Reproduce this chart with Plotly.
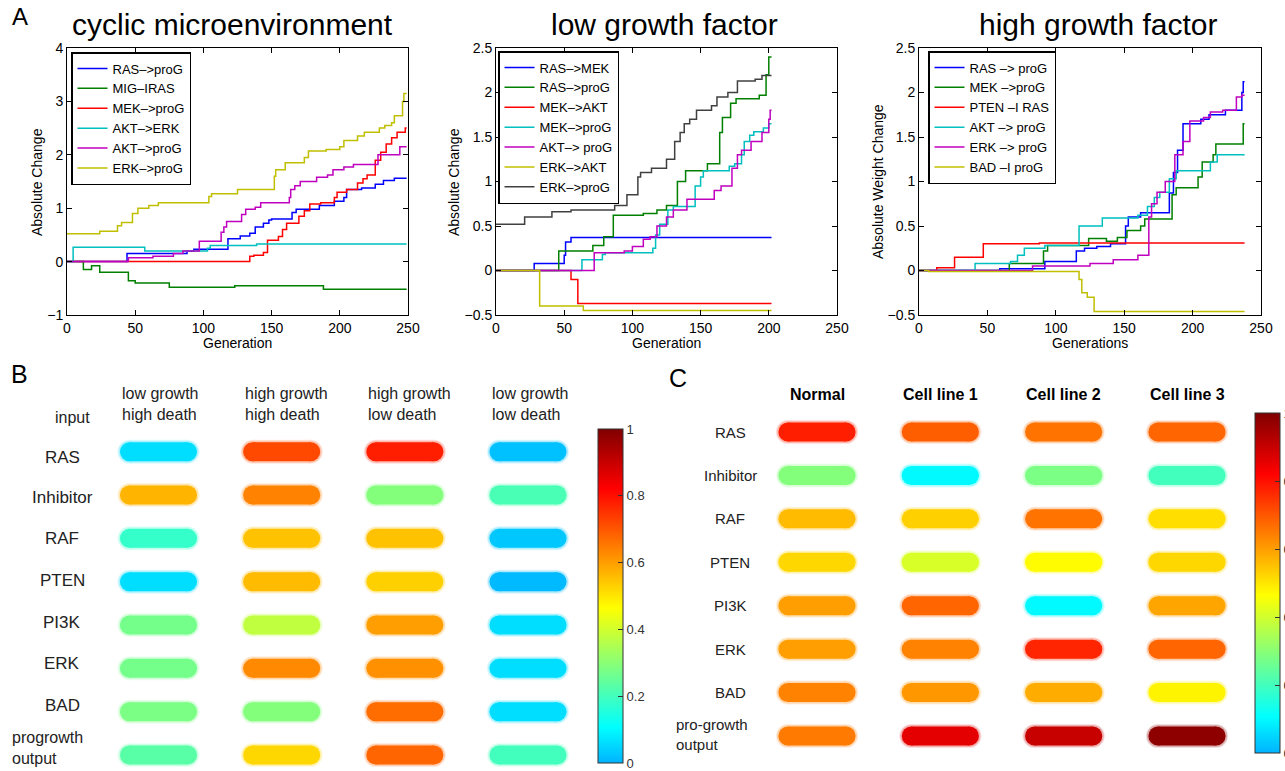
import plotly.graph_objects as go
from plotly.colors import sample_colorscale

W, H = 1285, 771
FONT = "Liberation Sans, Arial, Helvetica, sans-serif"

# ---------------- DATA: panel A (step series: generation, value) ----------------
cyc_names = ["RAS–>proG", "MIG–IRAS", "MEK–>proG", "AKT–>ERK", "AKT–>proG", "ERK–>proG"]
cyc_ras_prog_g = [0, 44, 88, 93, 118, 127, 134, 138, 144, 148, 150, 165, 168, 185, 196, 203, 205, 216, 226, 232, 240, 249]
cyc_ras_prog_v = [0, 0.15, 0.2, 0.23, 0.43, 0.48, 0.53, 0.65, 0.72, 0.78, 0.8, 0.92, 0.98, 1.05, 1.13, 1.2, 1.35, 1.38, 1.45, 1.52, 1.56, 1.56]
cyc_mig_ras_g = [0, 12, 18, 24, 45, 50, 75, 123, 188, 249]
cyc_mig_ras_v = [0, -0.15, -0.08, -0.2, -0.36, -0.4, -0.48, -0.45, -0.52, -0.52]
cyc_mek_prog_g = [0, 134, 137, 144, 147, 155, 158, 161, 170, 174, 178, 186, 196, 198, 205, 213, 217, 220, 226, 230, 234, 238, 242, 248, 249]
cyc_mek_prog_v = [0, 0.1, 0.12, 0.17, 0.4, 0.47, 0.6, 0.72, 0.85, 0.95, 1.08, 1.1, 1.2, 1.3, 1.35, 1.47, 1.55, 1.62, 1.9, 2.05, 2.2, 2.32, 2.42, 2.5, 2.5]
cyc_akt_erk_g = [0, 4.5, 57, 103, 105, 139, 249]
cyc_akt_erk_v = [0, 0.27, 0.2, 0.25, 0.3, 0.33, 0.33]
cyc_akt_prog_g = [0, 45, 63, 78, 85, 97, 113, 115, 117, 128, 131, 138, 142, 163, 164, 167, 171, 183, 191, 195, 203, 210, 228, 244, 249]
cyc_akt_prog_v = [0, 0.07, 0.1, 0.15, 0.2, 0.38, 0.55, 0.65, 0.75, 0.88, 0.98, 1.02, 1.1, 1.2, 1.35, 1.42, 1.5, 1.58, 1.62, 1.72, 1.77, 1.82, 2.0, 2.15, 2.15]
cyc_erk_prog_g = [0, 24, 37, 40, 48, 52, 60, 67, 104, 106, 125, 152, 153, 160, 174, 177, 190, 200, 203, 213, 218, 229, 233, 238, 240, 246, 247, 249]
cyc_erk_prog_v = [0.52, 0.57, 0.67, 0.73, 0.9, 1.0, 1.05, 1.1, 1.22, 1.27, 1.35, 1.6, 1.72, 1.85, 1.95, 2.07, 2.1, 2.15, 2.27, 2.35, 2.42, 2.5, 2.55, 2.6, 2.73, 3.0, 3.15, 3.15]

low_names = ["RAS–>MEK", "RAS–>proG", "MEK–>AKT", "MEK–>proG", "AKT–> proG", "ERK–>AKT", "ERK–>proG"]
low_ras_mek_g = [0, 28, 50, 51, 55, 202]
low_ras_mek_v = [0, 0.08, 0.17, 0.32, 0.37, 0.37]
low_ras_prog_g = [0, 46, 71, 79, 86, 108, 118, 125, 133, 139, 155, 164, 166, 172, 176, 193, 198, 200, 202]
low_ras_prog_v = [0, 0.22, 0.28, 0.38, 0.62, 0.64, 0.68, 0.73, 1.0, 1.12, 1.2, 1.55, 1.72, 1.88, 1.93, 1.97, 2.2, 2.4, 2.4]
low_mek_akt_g = [0, 55, 60, 202]
low_mek_akt_v = [0, -0.1, -0.37, -0.37]
low_mek_prog_g = [0, 63, 78, 80, 115, 117, 120, 126, 130, 146, 150, 152, 171, 175, 180, 182, 186, 189, 196, 200, 202]
low_mek_prog_v = [0, 0.12, 0.18, 0.2, 0.25, 0.4, 0.52, 0.68, 0.72, 0.95, 1.05, 1.12, 1.17, 1.2, 1.3, 1.45, 1.52, 1.56, 1.6, 1.65, 1.65]
low_akt_prog_g = [0, 72, 94, 100, 108, 113, 118, 125, 130, 140, 160, 165, 173, 177, 180, 187, 195, 200, 201, 202]
low_akt_prog_v = [0, 0.2, 0.22, 0.27, 0.35, 0.38, 0.5, 0.6, 0.68, 0.8, 0.9, 0.95, 1.15, 1.3, 1.35, 1.45, 1.55, 1.7, 1.8, 1.8]
low_erk_akt_g = [0, 32, 64, 202]
low_erk_akt_v = [0, -0.4, -0.45, -0.45]
low_erk_prog_g = [0, 21, 41, 55, 87, 96, 104, 106, 114, 125, 131, 135, 138, 142, 147, 158, 162, 170, 177, 190, 195, 202]
low_erk_prog_v = [0.52, 0.6, 0.66, 0.68, 0.73, 0.85, 1.05, 1.1, 1.15, 1.25, 1.45, 1.55, 1.65, 1.7, 1.8, 1.85, 1.95, 2.0, 2.13, 2.15, 2.19, 2.19]

high_names = ["RAS –> proG", "MEK –>proG", "PTEN –I RAS", "AKT –> proG", "ERK –> proG", "BAD –I proG"]
high_ras_prog_g = [0, 59, 92, 115, 121, 130, 140, 151, 153, 162, 183, 186, 189, 193, 206, 212, 224, 236, 237, 238]
high_ras_prog_v = [0, 0.02, 0.1, 0.22, 0.25, 0.27, 0.3, 0.5, 0.6, 0.65, 0.87, 1.1, 1.35, 1.65, 1.7, 1.75, 1.8, 2.0, 2.12, 2.12]
high_mek_prog_g = [0, 66, 91, 94, 124, 137, 145, 152, 162, 165, 185, 188, 204, 207, 215, 217, 237, 238]
high_mek_prog_v = [0, 0.08, 0.22, 0.28, 0.36, 0.33, 0.37, 0.45, 0.5, 0.58, 0.85, 0.93, 1.05, 1.22, 1.3, 1.42, 1.65, 1.65]
high_pten_ras_g = [0, 13, 26, 47, 88, 238]
high_pten_ras_v = [0, 0.03, 0.15, 0.3, 0.31, 0.31]
high_akt_prog_g = [0, 41, 67, 72, 77, 92, 117, 134, 160, 167, 172, 176, 183, 188, 213, 218, 238]
high_akt_prog_v = [0, 0.08, 0.1, 0.17, 0.25, 0.28, 0.5, 0.59, 0.62, 0.72, 0.82, 0.88, 1.03, 1.12, 1.22, 1.3, 1.3]
high_erk_prog_g = [0, 83, 125, 142, 160, 168, 170, 174, 180, 187, 193, 198, 208, 213, 222, 232, 236, 238]
high_erk_prog_v = [0, 0.05, 0.08, 0.12, 0.17, 0.6, 0.75, 0.88, 1.0, 1.3, 1.45, 1.68, 1.72, 1.78, 1.8, 1.95, 1.97, 1.97]
high_bad_prog_g = [0, 7, 117, 119, 123, 128, 238]
high_bad_prog_v = [0, -0.01, -0.1, -0.25, -0.3, -0.46, -0.46]

# ---------------- DATA: panels B and C (activity 0..1) ----------------
b_rows = ["RAS", "Inhibitor", "RAF", "PTEN", "PI3K", "ERK", "BAD", "progrowth<br>output"]
b_cols = ["low growth<br>high death", "high growth<br>high death", "high growth<br>low death", "low growth<br>low death"]
b_values = [
    [0.06, 0.72, 0.78, 0.02],
    [0.57, 0.64, 0.29, 0.21],
    [0.18, 0.55, 0.55, 0.03],
    [0.06, 0.56, 0.53, 0.01],
    [0.27, 0.375, 0.60, 0.06],
    [0.27, 0.63, 0.62, 0.06],
    [0.28, 0.29, 0.67, 0.06],
    [0.23, 0.52, 0.68, 0.20],
]
c_rows = ["RAS", "Inhibitor", "RAF", "PTEN", "PI3K", "ERK", "BAD", "pro-growth<br>output"]
c_cols = ["Normal", "Cell line 1", "Cell line 2", "Cell line 3"]
c_values = [
    [0.78, 0.69, 0.66, 0.68],
    [0.29, 0.10, 0.28, 0.20],
    [0.56, 0.53, 0.66, 0.51],
    [0.52, 0.41, 0.47, 0.52],
    [0.60, 0.68, 0.10, 0.59],
    [0.60, 0.64, 0.77, 0.68],
    [0.64, 0.61, 0.58, 0.48],
    [0.65, 0.86, 0.90, 0.98],
]
cbar_ticks = [0, 0.2, 0.4, 0.6, 0.8, 1]
cbar_ticktext = ["0", "0.2", "0.4", "0.6", "0.8", "1"]

# ---------------- helpers ----------------
def fx(px):
    return px / W

def fy(py):
    return 1 - py / H

# jet colormap restricted to [0.3, 1.0]
JET = [[0.0, "rgb(0,179,255)"], [0.1071, "rgb(0,255,255)"], [0.4643, "rgb(255,255,0)"],
       [0.8214, "rgb(255,0,0)"], [1.0, "rgb(128,0,0)"]]

M_BLUE, M_GREEN, M_RED = "rgb(0,0,255)", "rgb(0,128,0)", "rgb(255,0,0)"
M_CYAN, M_MAG, M_OLIVE, M_GRAY = "rgb(0,191,191)", "rgb(191,0,191)", "rgb(191,191,0)", "rgb(64,64,64)"

fig = go.Figure()

panels = [
    ("x", "y", "legend", [
        (cyc_names[0], M_BLUE, cyc_ras_prog_g, cyc_ras_prog_v),
        (cyc_names[1], M_GREEN, cyc_mig_ras_g, cyc_mig_ras_v),
        (cyc_names[2], M_RED, cyc_mek_prog_g, cyc_mek_prog_v),
        (cyc_names[3], M_CYAN, cyc_akt_erk_g, cyc_akt_erk_v),
        (cyc_names[4], M_MAG, cyc_akt_prog_g, cyc_akt_prog_v),
        (cyc_names[5], M_OLIVE, cyc_erk_prog_g, cyc_erk_prog_v),
    ]),
    ("x2", "y2", "legend2", [
        (low_names[0], M_BLUE, low_ras_mek_g, low_ras_mek_v),
        (low_names[1], M_GREEN, low_ras_prog_g, low_ras_prog_v),
        (low_names[2], M_RED, low_mek_akt_g, low_mek_akt_v),
        (low_names[3], M_CYAN, low_mek_prog_g, low_mek_prog_v),
        (low_names[4], M_MAG, low_akt_prog_g, low_akt_prog_v),
        (low_names[5], M_OLIVE, low_erk_akt_g, low_erk_akt_v),
        (low_names[6], M_GRAY, low_erk_prog_g, low_erk_prog_v),
    ]),
    ("x3", "y3", "legend3", [
        (high_names[0], M_BLUE, high_ras_prog_g, high_ras_prog_v),
        (high_names[1], M_GREEN, high_mek_prog_g, high_mek_prog_v),
        (high_names[2], M_RED, high_pten_ras_g, high_pten_ras_v),
        (high_names[3], M_CYAN, high_akt_prog_g, high_akt_prog_v),
        (high_names[4], M_MAG, high_erk_prog_g, high_erk_prog_v),
        (high_names[5], M_OLIVE, high_bad_prog_g, high_bad_prog_v),
    ]),
]
for xa, ya, lg, series in panels:
    for name, col, g, v in series:
        fig.add_trace(go.Scatter(x=g, y=v, name=name, mode="lines", line=dict(color=col, width=1.5, shape="hv"),
                                 xaxis=xa, yaxis=ya, legend=lg, hoverinfo="skip"))

# ---------------- pills (B: x4/y4, C: x5/y5) ----------------
PILL_HALF = 0.236  # data units between cap centres / 2

def add_pills(values, xa, ya, cbar):
    first = True
    for r, row in enumerate(values):
        for c, v in enumerate(row):
            col = sample_colorscale(JET, [v])[0]
            xs, ys = [c - PILL_HALF, c + PILL_HALF], [r, r]
            for wdt, op in [(24, 0.12), (22, 0.22)]:
                fig.add_trace(go.Scatter(x=xs, y=ys, mode="lines+markers", opacity=op,
                                         line=dict(color=col, width=wdt), marker=dict(size=wdt, color=col),
                                         xaxis=xa, yaxis=ya, showlegend=False, hoverinfo="skip"))
            fig.add_trace(go.Scatter(x=xs, y=ys, mode="lines+markers",
                                     line=dict(color=col, width=19),
                                     marker=dict(size=19, color=[v, v], colorscale=JET, cmin=0, cmax=1,
                                                 showscale=first, colorbar=cbar),
                                     xaxis=xa, yaxis=ya, showlegend=False, hoverinfo="skip"))
            first = False

def cbar_dict(x0, ybot, length):
    return dict(x=fx(x0), xanchor="left", y=fy(ybot), yanchor="bottom", len=length, lenmode="pixels",
                thickness=25, thicknessmode="pixels", xpad=0, ypad=0, outlinewidth=1, outlinecolor="#333",
                ticks="inside", ticklen=5, tickcolor="#333", tickvals=cbar_ticks, ticktext=cbar_ticktext,
                tickfont=dict(family=FONT, size=13, color="#333"))

add_pills(b_values, "x4", "y4", cbar_dict(598, 763, 334))
add_pills(c_values, "x5", "y5", cbar_dict(1255, 753, 340))

# ---------------- layout ----------------
def a_xaxis(x0, x1, anchor):
    return dict(domain=[fx(x0), fx(x1)], anchor=anchor, range=[0, 250], tickvals=[0, 50, 100, 150, 200, 250],
                showgrid=False, zeroline=False, showline=True, linecolor="black", linewidth=1, mirror="ticks",
                ticks="inside", ticklen=5, tickcolor="black", tickfont=dict(family=FONT, size=14, color="black"))

def a_yaxis(rng, dt, anchor):
    return dict(domain=[fy(315), fy(48)], anchor=anchor, range=rng, dtick=dt, tick0=0,
                showgrid=False, zeroline=False, showline=True, linecolor="black", linewidth=1, mirror="ticks",
                ticks="inside", ticklen=5, tickcolor="black", tickfont=dict(family=FONT, size=14, color="black"))

def hidden_x(c0, c3):
    s = (c3 - c0) / 3
    return dict(domain=[fx(c0 - s / 2), fx(c3 + s / 2)], range=[-0.5, 3.5], visible=False, fixedrange=True)

def hidden_y(r0, r7, lo, hi):
    s = (r7 - r0) / 7
    return dict(domain=[fy(r0 + hi * s), fy(r0 + lo * s)], range=[hi, lo], visible=False, fixedrange=True)

legend_common = dict(bgcolor="white", bordercolor="black", borderwidth=1.5, xanchor="left", yanchor="top",
                     font=dict(family=FONT, size=13, color="black"), itemwidth=30, tracegroupgap=0)

fig.update_layout(
    width=W, height=H, margin=dict(l=0, r=0, t=0, b=0, autoexpand=False),
    paper_bgcolor="white", plot_bgcolor="white", font=dict(family=FONT, color="black"),
    xaxis=a_xaxis(67, 408, "y"), yaxis=a_yaxis([-1, 4], 1, "x"),
    xaxis2=a_xaxis(496, 837, "y2"), yaxis2=a_yaxis([-0.5, 2.5], 0.5, "x2"),
    xaxis3=a_xaxis(919, 1261, "y3"), yaxis3=a_yaxis([-0.5, 2.5], 0.5, "x3"),
    xaxis4=hidden_x(158.5, 528), yaxis4=hidden_y(451.7, 755, -0.5, 7.35),
    xaxis5=hidden_x(817, 1187), yaxis5=hidden_y(432, 736, -0.5, 7.45),
    legend=dict(x=fx(71), y=fy(52), **legend_common),
    legend2=dict(x=fx(498), y=fy(51), **legend_common),
    legend3=dict(x=fx(928), y=fy(51), **legend_common),
    showlegend=True,
)
fig.update_layout(xaxis4_anchor="y4", yaxis4_anchor="x4", xaxis5_anchor="y5", yaxis5_anchor="x5")

ann = []

def text(x, y, t, size, xanchor="center", yanchor="middle", bold=False, angle=0, align="center", color="black"):
    if bold:
        t = "<b>" + t + "</b>"
    ann.append(dict(x=fx(x), y=fy(y), xref="paper", yref="paper", text=t, showarrow=False,
                    xanchor=xanchor, yanchor=yanchor, textangle=angle, align=align,
                    font=dict(family=FONT, size=size, color=color)))

# panel letters
text(10, 16, "A", 24, xanchor="left")
text(9, 374, "B", 25, xanchor="left")
text(667, 378, "C", 25, xanchor="left")
# A titles
text(232.5, 24, "cyclic microenvironment", 30)
text(664, 24, "low growth factor", 30)
text(1098, 24, "high growth factor", 30)
# A axis titles
for cx, t in [(237.5, "Generation"), (666, "Generation"), (1090, "Generations")]:
    text(cx, 343, t, 14)
for cx, t in [(37, "Absolute Change"), (454, "Absolute Change"), (878, "Absolute Weight Change")]:
    text(cx, 182, t, 14, angle=-90)

# B headers and row labels
b_s = (528 - 158.5) / 3
for c, lab in enumerate(b_cols):
    text(158.5 + c * b_s - 38.5, 404, lab, 16, xanchor="left", align="left", color="#222")
text(92, 417, "input", 16, xanchor="right", color="#222")
b_label_y = [457, 497, 538, 580, 622, 663, 705]
for r, lab in enumerate(b_rows[:-1]):
    text(62, b_label_y[r], lab, 17, color="#222")
text(10, 748, b_rows[-1], 16, xanchor="left", align="left", color="#222")

# C headers and row labels
c_s = (1187 - 817) / 3
for c, lab in enumerate(c_cols):
    text(817 + c * c_s, 395, lab, 16, bold=True)
c_s_y = (736 - 432) / 7
for r, lab in enumerate(c_rows[:-1]):
    text(730, 432 + r * c_s_y, lab, 15, color="#222")
text(674, 734, c_rows[-1], 15, xanchor="left", align="left", color="#222")

fig.update_layout(annotations=ann)
fig.write_html("out.html", config={"displayModeBar": False},
               post_script="document.body.style.margin='0px';document.body.style.overflow='hidden';")
